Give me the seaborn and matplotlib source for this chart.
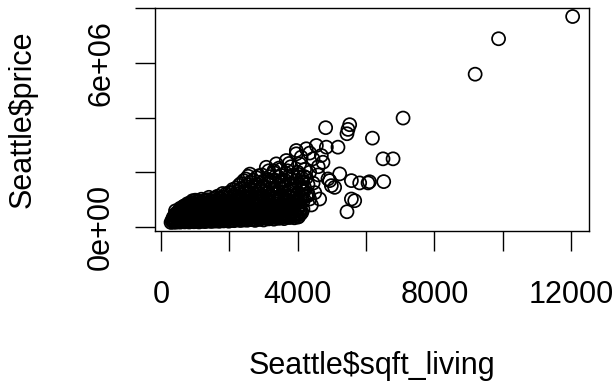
import numpy as np
import pandas as pd
import matplotlib
matplotlib.use("Agg")
import matplotlib.pyplot as plt
import seaborn as sns

# Seattle houses: living area (sqft) and sale price (thousands of $)
# main cloud, one band of prices per line
core_sqft = [
    290, 370, 430, 500, 560, 620, 690, 750, 820, 890, 960, 1030, 1110, 1190, 1280, 1370, 1470, 1580, 1700, 1830, 1980, 2140, 2320, 2520, 2750, 3000, 3300, 3600, 3900,
    320, 410, 480, 530, 590, 650, 720, 790, 860, 930, 1000, 1070, 1150, 1240, 1330, 1420, 1520, 1640, 1760, 1900, 2060, 2230, 2420, 2640, 2880, 3150, 3450, 3750, 4000,
    330, 400, 470, 540, 610, 680, 750, 820, 890, 960, 1030, 1100, 1180, 1260, 1340, 1430, 1520, 1620, 1720, 1830, 1950, 2080, 2220, 2370, 2530, 2700, 2880, 3080,
    380, 460, 540, 620, 700, 780, 860, 940, 1020, 1100, 1180, 1270, 1360, 1450, 1550, 1650, 1760, 1870, 1990, 2120, 2260, 2400, 2560, 2730, 2920, 3120, 3330, 3550, 3780, 4020,
    350, 440, 520, 600, 680, 760, 840, 920, 1000, 1080, 1160, 1240, 1330, 1420, 1510, 1600, 1700, 1800, 1910, 2020, 2140, 2270, 2400, 2540, 2690, 2850, 3020, 3200, 3400, 3620, 3850,
    410, 500, 590, 680, 770, 860, 950, 1040, 1130, 1220, 1310, 1410, 1510, 1610, 1720, 1830, 1950, 2070, 2200, 2340, 2480, 2630, 2790, 2960, 3140, 3330, 3530, 3740, 3960,
    390, 480, 570, 660, 750, 840, 930, 1020, 1110, 1200, 1290, 1380, 1470, 1570, 1670, 1770, 1880, 1990, 2110, 2230, 2360, 2500, 2650, 2800, 2960, 3130, 3310, 3500, 3700, 3910, 4080,
    430, 520, 610, 700, 800, 900, 990, 1090, 1190, 1290, 1390, 1500, 1610, 1720, 1840, 1960, 2090, 2220, 2360, 2510, 2670, 2840, 3020, 3210, 3400, 3600, 3810, 4030,
    450, 550, 650, 750, 850, 950, 1040, 1140, 1240, 1340, 1440, 1550, 1660, 1770, 1890, 2010, 2140, 2280, 2420, 2570, 2730, 2900, 3080, 3270, 3470, 3680, 3900, 4120,
    500, 600, 700, 800, 900, 1000, 1100, 1200, 1300, 1400, 1510, 1620, 1740, 1860, 1990, 2130, 2280, 2440, 2610, 2790, 2980, 3180, 3400, 3620, 3850, 4080,
    420, 540, 650, 760, 870, 980, 1090, 1200, 1310, 1420, 1540, 1660, 1790, 1920, 2060, 2210, 2370, 2540, 2720, 2910, 3110, 3320, 3540, 3770, 4000,
    600, 720, 840, 960, 1080, 1200, 1320, 1440, 1570, 1700, 1840, 1990, 2150, 2320, 2500, 2690, 2890, 3100, 3320, 3550, 3790,
    560, 690, 820, 940, 1060, 1180, 1300, 1420, 1550, 1680, 1820, 1970, 2130, 2300, 2480, 2670, 2870, 3080, 3300, 3530, 3770, 4020,
    650, 780, 910, 1040, 1170, 1300, 1430, 1570, 1720, 1870, 2030, 2200, 2380, 2570, 2770, 2980, 3200, 3430, 3670, 3920,
    700, 840, 980, 1110, 1240, 1370, 1500, 1640, 1790, 1950, 2120, 2300, 2490, 2690, 2900, 3120, 3350, 3590, 3840, 4060,
    780, 930, 1080, 1230, 1380, 1540, 1710, 1890, 2080, 2280, 2490, 2710, 2940, 3180, 3430, 3690, 3950,
    880, 1040, 1190, 1340, 1500, 1670, 1850, 2040, 2240, 2450, 2670, 2900, 3140, 3390, 3650, 3910, 4150,
    920, 1100, 1270, 1450, 1630, 1820, 2020, 2230, 2450, 2680, 2920, 3170, 3430, 3700, 3970,
    1000, 1180, 1360, 1540, 1730, 1930, 2140, 2360, 2590, 2830, 3080, 3340, 3610, 3880, 4120,
    1400, 1620, 1830, 2050, 2270, 2500, 2740, 2990, 3250, 3520, 3800, 4080,
    1650, 1900, 2130, 2370, 2620, 2880, 3150, 3430, 3720, 4010, 4250,
    1800, 2050, 2300, 2560, 2830, 3110, 3400, 3700, 4000, 4300,
    2000, 2240, 2490, 2750, 3020, 3300, 3590, 3890, 4180,
    2100, 2360, 2630, 2910, 3200, 3500, 3810, 4120,
    2200, 2460, 2730, 3010, 3300, 3600, 3910, 4200,
    2280, 2550, 2830, 3120, 3420, 3730, 4050,
    2330, 2610, 2900, 3200, 3510, 3830, 4150,
    2420, 2700, 3000, 3310, 3630, 3960,
    2480, 2790, 3110, 3440, 3780, 4120,
    2550, 2860, 3180, 3510, 3850, 4180,
    2600, 2950, 3300, 3660, 4020, 4348,
]
core_price_k = [
    160, 175, 168, 185, 172, 190, 180, 198, 176, 192, 185, 200, 178, 205, 190, 210, 195, 208, 200, 215, 205, 225, 230, 240, 235, 250, 280, 300, 330,
    205, 215, 230, 210, 238, 220, 212, 232, 225, 240, 215, 235, 228, 242, 218, 236, 226, 245, 230, 250, 238, 255, 248, 262, 270, 290, 310, 340, 360,
    250, 262, 245, 270, 255, 282, 248, 275, 260, 288, 252, 270, 285, 258, 276, 290, 265, 280, 295, 272, 288, 265, 300, 285, 310, 295, 320, 305,
    295, 310, 322, 300, 315, 330, 305, 325, 312, 298, 328, 318, 302, 332, 310, 325, 315, 335, 300, 328, 318, 340, 325, 345, 335, 350, 340, 345, 355, 365,
    330, 345, 352, 338, 365, 348, 372, 335, 360, 378, 342, 365, 355, 380, 340, 370, 358, 385, 345, 372, 390, 360, 380, 365, 395, 375, 388, 370, 392, 360, 385,
    392, 385, 405, 398, 388, 410, 395, 402, 390, 408, 398, 386, 405, 395, 410, 392, 400, 412, 388, 405, 396, 410, 400, 408, 395, 412, 402, 398, 410,
    410, 430, 418, 445, 425, 452, 415, 440, 460, 428, 448, 420, 455, 438, 462, 425, 450, 470, 435, 458, 442, 468, 430, 455, 475, 445, 465, 438, 460, 450, 470,
    470, 488, 478, 495, 482, 470, 498, 485, 475, 492, 480, 500, 488, 472, 495, 482, 490, 475, 498, 485, 492, 478, 500, 488, 495, 480, 492, 498,
    500, 520, 508, 535, 495, 525, 548, 512, 538, 505, 530, 552, 515, 540, 525, 555, 510, 545, 530, 560, 520, 548, 535, 565, 525, 550, 540, 530,
    560, 575, 555, 578, 565, 552, 580, 568, 558, 575, 562, 580, 555, 570, 578, 560, 572, 580, 565, 575, 558, 578, 568, 575, 562, 580,
    585, 600, 620, 590, 612, 635, 598, 625, 605, 640, 615, 595, 630, 610, 645, 620, 600, 638, 625, 650, 615, 640, 620, 645, 630,
    650, 665, 645, 660, 672, 652, 668, 648, 662, 675, 655, 668, 650, 672, 660, 648, 670, 658, 665, 652, 668,
    680, 700, 665, 720, 690, 710, 740, 685, 725, 700, 735, 710, 690, 745, 720, 700, 740, 715, 735, 705, 730, 720,
    745, 755, 762, 748, 768, 752, 760, 770, 745, 758, 765, 750, 768, 755, 745, 762, 770, 752, 760, 748,
    780, 810, 770, 835, 800, 790, 825, 775, 840, 805, 785, 830, 815, 795, 840, 810, 830, 800, 825, 815,
    850, 862, 845, 868, 855, 842, 865, 850, 870, 848, 858, 866, 852, 862, 845, 868, 855,
    890, 920, 870, 935, 905, 880, 925, 945, 900, 930, 880, 940, 910, 925, 895, 935, 915,
    955, 945, 968, 950, 975, 960, 948, 972, 958, 980, 952, 968, 945, 975, 960,
    975, 1010, 990, 1040, 1020, 1060, 995, 1050, 1030, 1070, 1010, 1055, 1040, 1020, 1065,
    1080, 1070, 1100, 1085, 1105, 1075, 1095, 1068, 1102, 1088, 1072, 1098,
    1120, 1200, 1150, 1180, 1110, 1190, 1160, 1210, 1140, 1185, 1130,
    1220, 1245, 1230, 1255, 1210, 1240, 1225, 1250, 1235, 1215,
    1260, 1310, 1280, 1340, 1300, 1350, 1270, 1330, 1290,
    1370, 1395, 1360, 1405, 1380, 1410, 1365, 1390,
    1420, 1480, 1450, 1500, 1430, 1470, 1510, 1440,
    1520, 1545, 1530, 1560, 1515, 1550, 1535,
    1580, 1640, 1600, 1660, 1620, 1590, 1650,
    1690, 1710, 1680, 1720, 1700, 1685,
    1750, 1800, 1730, 1820, 1770, 1790,
    1850, 1870, 1840, 1880, 1860, 1845,
    1930, 1900, 1980, 1950, 1920, 1997,
]

# looser points above and to the right of the cloud
upper_sqft = [3079, 3372, 3665, 4055, 4446, 3958, 4251, 4545, 4838, 5178, 4691, 4739, 3958,
              3500, 3800, 4200, 4600, 3300, 4885, 5081, 4348, 4400, 4500, 4300, 4600,
              3150, 3450, 3750, 4100, 4350, 3700, 4000, 4250, 4450, 4150, 4300]
upper_price_k = [2180, 2305, 2427, 2305, 2489, 2673, 2857, 2978, 2916, 2916, 2611, 2364, 2794,
                 2100, 2200, 2100, 2200, 2050, 1754, 1445, 1018, 800, 1250, 1550, 1900,
                 2050, 2150, 2320, 2550, 2700, 2050, 2000, 1800, 1600, 1400, 1150]

# large or expensive houses
outlier_sqft = [4817, 5521, 5472, 5442, 6187, 6497, 6791, 5228, 4935, 4984, 5571, 5814, 6058,
                6100, 6518, 4641, 5571, 5668, 5442, 4152, 7084, 9195, 9881, 12050]
outlier_price_k = [3629, 3739, 3567, 3408, 3247, 2489, 2489, 1938, 1691, 1508, 1691, 1607, 1607,
                   1650, 1655, 1018, 1018, 956, 552, 650, 3982, 5588, 6886, 7700]

x_ticks = [0, 2000, 4000, 6000, 8000, 10000, 12000]
x_tick_labels = ["0", "", "4000", "", "8000", "", "12000"]
y_ticks = [0, 2e6, 4e6, 6e6, 8e6]
y_tick_labels = ["0e+00", "", "", "6e+06", ""]

Seattle = pd.DataFrame({
    "sqft_living": core_sqft + upper_sqft + outlier_sqft,
    "price": np.array(core_price_k + upper_price_k + outlier_price_k) * 1000.0,
})

sns.set_style("ticks")
plt.rcParams["font.family"] = ["Liberation Sans", "DejaVu Sans"]
plt.rcParams["text.color"] = "black"
plt.rcParams["axes.labelcolor"] = "black"
plt.rcParams["xtick.color"] = "black"
plt.rcParams["ytick.color"] = "black"
plt.rcParams["axes.edgecolor"] = "black"

fig = plt.figure(figsize=(6.16, 3.83), dpi=100)
ax = fig.add_axes([0.2516, 0.3977, 0.7041, 0.5807])

sns.scatterplot(data=Seattle, x="sqft_living", y="price", ax=ax, marker="o", s=88,
                facecolor="none", edgecolor="black", linewidth=1.25, legend=False)

# R style limits: data range plus 4% on each side
def r_limits(v):
    lo, hi = np.min(v), np.max(v)
    d = (hi - lo) * 0.04
    return lo - d, hi + d

ax.set_xlim(*r_limits(Seattle["sqft_living"]))
ax.set_ylim(*r_limits(Seattle["price"]))

ax.set_xticks(x_ticks)
ax.set_xticklabels(x_tick_labels, fontsize=22, color="black")
ax.set_yticks(y_ticks)
ax.set_yticklabels(y_tick_labels, fontsize=22, rotation=90, va="center", color="black")
ax.tick_params(axis="both", direction="out", length=14.4, width=1.0, color="black")
ax.tick_params(axis="x", pad=21)
ax.tick_params(axis="y", pad=13.5)
for sp in ax.spines.values():
    sp.set_visible(True)
    sp.set_color("black")
    sp.set_linewidth(1.0)
ax.set_xlabel("")
ax.set_ylabel("")
ax.grid(False)

fig.text(371.8 / 616, 1 - 374 / 383, "Seattle$sqft_living", fontsize=22,
         ha="center", va="baseline", color="black")
fig.text(8 / 616, 1 - 119.5 / 383, "Seattle$price", fontsize=22,
         rotation=90, ha="left", va="center", color="black")

fig.savefig("out.png", dpi=100)
